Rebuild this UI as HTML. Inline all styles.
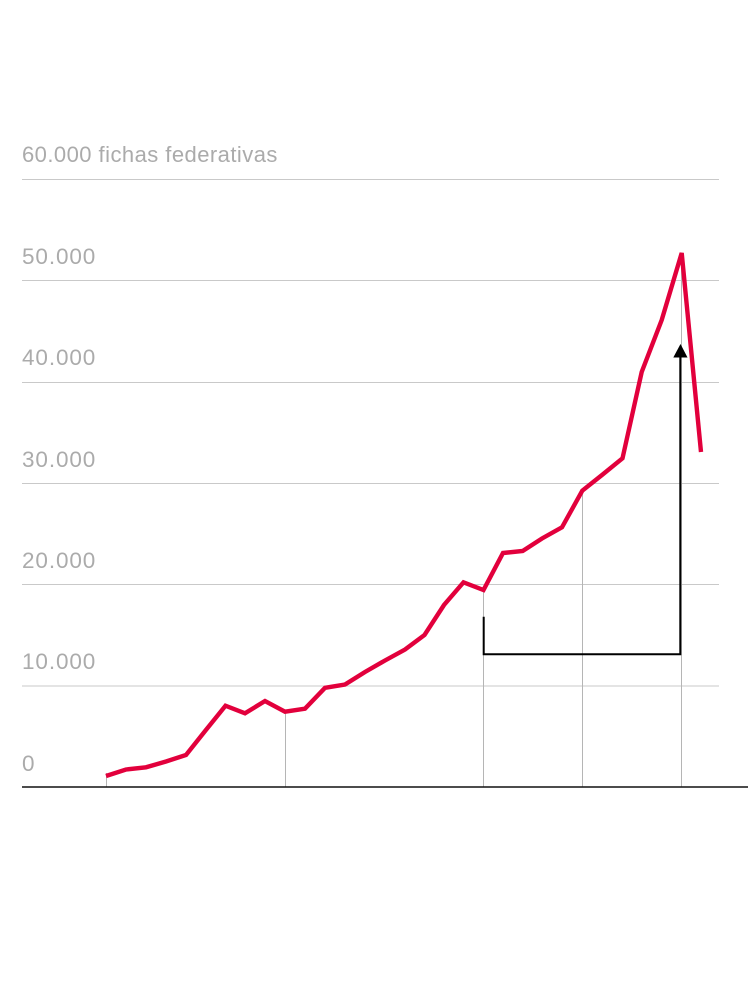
<!DOCTYPE html>
<html>
<head>
<meta charset="utf-8">
<style>
  html, body { margin: 0; padding: 0; background: #fff; }
  body { width: 750px; height: 992px; overflow: hidden; }
  svg { display: block; }
  text { font-family: "Liberation Sans", "DejaVu Sans", sans-serif; fill: #ababab; }
  .num { font-size: 22.5px; letter-spacing: 0.9px; }
  .ttl { font-size: 22px; letter-spacing: 0.45px; }
</style>
</head>
<body>
<svg width="750" height="992" viewBox="0 0 750 992" xmlns="http://www.w3.org/2000/svg">
  <!-- gridlines -->
  <g stroke="#c9c9c9" stroke-width="1">
    <line x1="22" y1="179.5" x2="719" y2="179.5"/>
    <line x1="22" y1="280.5" x2="719" y2="280.5"/>
    <line x1="22" y1="382.5" x2="719" y2="382.5"/>
    <line x1="22" y1="483.5" x2="719" y2="483.5"/>
    <line x1="22" y1="584.5" x2="719" y2="584.5"/>
    <line x1="22" y1="686" x2="719" y2="686"/>
  </g>
  <!-- labels -->
  <text class="ttl" x="22" y="162">60.000 fichas federativas</text>
  <text class="num" x="22" y="264">50.000</text>
  <text class="num" x="22" y="365">40.000</text>
  <text class="num" x="22" y="467">30.000</text>
  <text class="num" x="22" y="568">20.000</text>
  <text class="num" x="22" y="669">10.000</text>
  <text class="num" x="22" y="771">0</text>
  <!-- vertical markers -->
  <g stroke="#b5b5b5" stroke-width="1">
    <line x1="106.5" y1="773" x2="106.5" y2="787"/>
    <line x1="285.5" y1="711" x2="285.5" y2="787"/>
    <line x1="483.5" y1="590" x2="483.5" y2="787"/>
    <line x1="582.5" y1="491" x2="582.5" y2="787"/>
    <line x1="681.5" y1="253" x2="681.5" y2="787"/>
  </g>
  <!-- baseline -->
  <line x1="22" y1="787" x2="748" y2="787" stroke="#111" stroke-width="1.6"/>
  <!-- arrow -->
  <path d="M483.7,616.7 V654.3 H680.3 V356" fill="none" stroke="#000" stroke-width="2"/>
  <polygon points="673.3,357.5 687.5,357.5 680.5,344" fill="#000"/>
  <!-- series -->
  <polyline fill="none" stroke="#e2003c" stroke-width="4.4" stroke-linejoin="miter" stroke-linecap="butt"
    points="106,776 126,769.5 146,767.3 166,761.5 186,755 205.5,730.5 225.5,705.7 245,713.3 265,701 285,711.7 305,708.7 325,687.8 345,684.5 365,672 385,660.5 405,649.5 424.5,635 444,605 463.5,582.3 483.5,590 503,553 522.7,551 542,538.5 562,527.3 582.3,490.7 602,475 622.5,458.3 641.7,372 661.7,320 681.7,253 701,452"/>
</svg>
</body>
</html>
